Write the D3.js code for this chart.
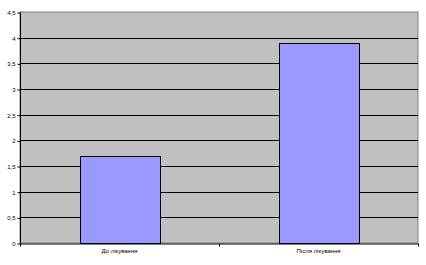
<!DOCTYPE html>
<html>
<head>
<meta charset="utf-8">
<script src="https://cdn.jsdelivr.net/npm/d3@7"></script>
<style>
  body { margin: 0; background: #fff; }
  svg { display: block; font-family: "Liberation Sans", Arial, sans-serif; }
</style>
</head>
<body>
<script>
'use strict';

const categories = ["До лікування", "Після лікування"]
const values = [1.7, 3.9]
const yTicks = [0, 0.5, 1, 1.5, 2, 2.5, 3, 3.5, 4, 4.5]

const m = { width: 426, height: 265, left: 20, right: 8, top: 12, bottom: 22 }

const svg = d3.select('body')
  .append('svg')
  .attr('width', m.width)
  .attr('height', m.height)

const x = d3.scaleBand()
  .domain(categories)
  .range([m.left, m.width - m.right])
  .paddingInner(0.6)
  .paddingOuter(0.3)

const y = d3.scaleLinear()
  .domain([0, 4.5])
  .range([m.height - m.bottom, m.top])

// plot background
svg.append('rect')
  .attr('x', m.left)
  .attr('y', m.top)
  .attr('width', m.width - m.right - m.left)
  .attr('height', m.height - m.bottom - m.top)
  .style('fill', '#c0c0c0')
  .style('stroke', '#808080')
  .style('stroke-width', 1)

// gridlines
svg.append('g')
  .selectAll('line')
  .data(yTicks.filter(d => d > 0 && d < 4.5))
  .enter().append('line')
    .attr('x1', m.left)
    .attr('x2', m.width - m.right)
    .attr('y1', d => Math.round(y(d)) + 0.5)
    .attr('y2', d => Math.round(y(d)) + 0.5)
    .style('stroke', '#000')
    .style('stroke-width', 1)

// bars
svg.append('g')
  .selectAll('rect')
  .data(values)
  .enter().append('rect')
    .attr('x', (d, i) => Math.round(x(categories[i])) + 0.5)
    .attr('y', d => Math.round(y(d)) + 0.5)
    .attr('width', Math.round(x.bandwidth()))
    .attr('height', d => Math.round(y(0)) - Math.round(y(d)))
    .style('fill', '#9999ff')
    .style('stroke', '#000')
    .style('stroke-width', 1)

// y axis
const yAxis = d3.axisLeft(y)
  .tickValues(yTicks)
  .tickSize(3)
  .tickFormat(d => String(d).replace('.', ','))
svg.append('g')
  .attr('transform', 'translate(' + (m.left + 0.5) + ',0.5)')
  .style('font-size', '6px')
  .call(yAxis)
  .call(g => g.selectAll('line').attr('stroke', '#000'))
  .call(g => g.select('.domain').attr('stroke', '#000').attr('d', 'M0,' + Math.round(y(0)) + 'V' + Math.round(y(4.5))))
  .call(g => g.selectAll('text').attr('fill', '#000').attr('x', -5))

// x axis
const xAxis = d3.axisBottom(x).tickSize(0).tickSizeOuter(0)
const xg = svg.append('g')
  .attr('transform', 'translate(0,' + (Math.round(y(0)) + 0.5) + ')')
  .style('font-size', '6px')
  .call(xAxis)
xg.select('.domain').attr('stroke', '#000')
xg.selectAll('text').attr('fill', '#000').attr('dy', '0.71em').attr('y', 5)

// category separator tick marks
const step = x.step()
const bounds = [m.left, m.left + (m.width - m.right - m.left) / 2, m.width - m.right]
xg.selectAll('.sep')
  .data(bounds)
  .enter().append('line')
    .attr('class', 'sep')
    .attr('x1', d => Math.round(d) + 0.5)
    .attr('x2', d => Math.round(d) + 0.5)
    .attr('y1', 0)
    .attr('y2', 3)
    .attr('stroke', '#000')
</script>
</body>
</html>
